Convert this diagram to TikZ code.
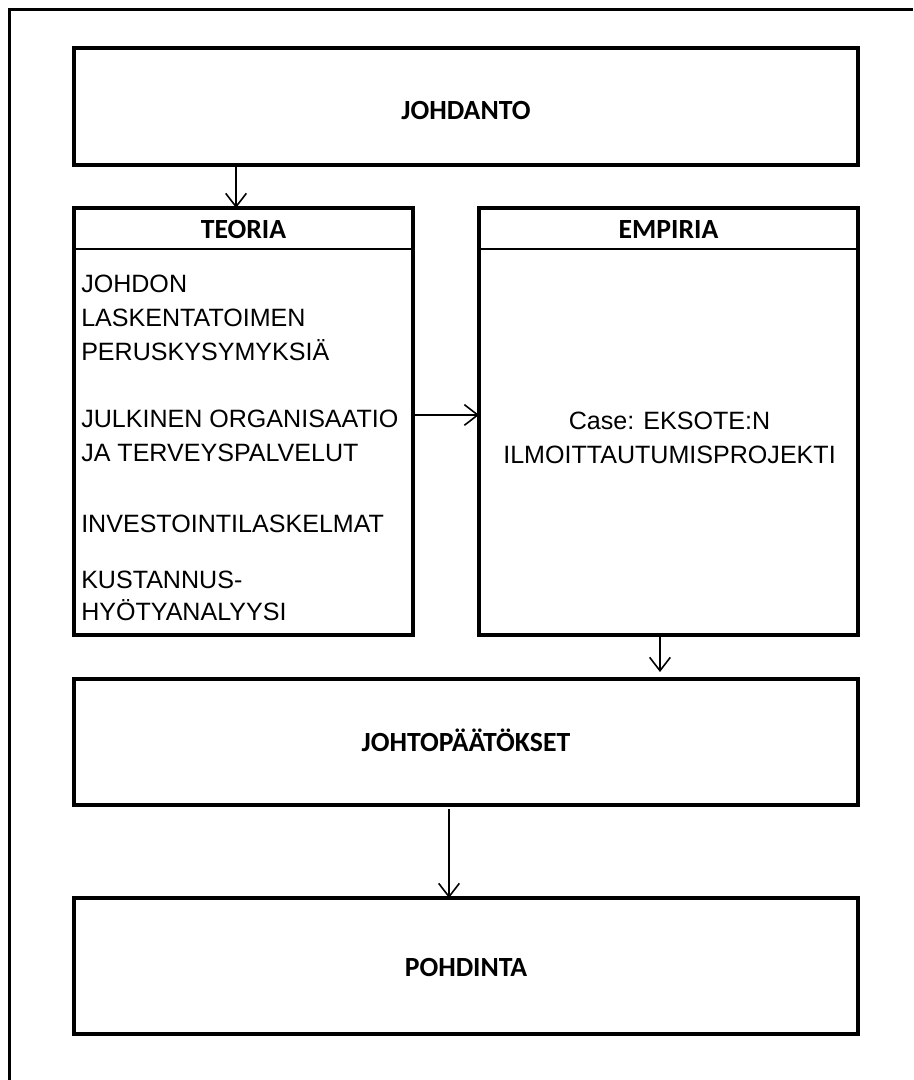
\documentclass[tikz,border=0pt]{standalone}
\usepackage{fontspec}
\setmainfont{Liberation Sans}
\newfontfamily\headfont{Carlito}
\usetikzlibrary{arrows.meta}
\newlength\pxu
\setlength\pxu{0.75pt}
\tikzset{
  box/.style={draw, line width=4\pxu, inner sep=0pt, outer sep=0pt},
  headtitle/.style={inner sep=0pt, font=\headfont\bfseries\fontsize{20.8pt}{24pt}\selectfont},
  sepline/.style={draw, line width=1.3\pxu},
  bodytext/.style={inner sep=0pt, font=\fontsize{18.8pt}{25pt}\selectfont},
  arr/.style={draw, line width=1.2pt, -{Straight Barb[length=10pt,width=15.5pt]}},
  frame/.style={draw, line width=1.65pt}
}
\begin{document}
\begin{tikzpicture}[x=0.75pt,y=-0.75pt]
\useasboundingbox[fill=white] (0,0) rectangle (913,1080);

% page frame (open at right and bottom)
\draw[frame] (9.5,1080) -- (9.5,9.5) -- (913,9.5);

% main boxes
\node[box, minimum width=784\pxu, minimum height=117\pxu] (johdanto) at (466,106.5) {};
\node[box, minimum width=339\pxu, minimum height=427\pxu] (teoria) at (243.5,421.5) {};
\node[box, minimum width=379\pxu, minimum height=427\pxu] (empiria) at (668.5,421.5) {};
\node[box, minimum width=784\pxu, minimum height=126\pxu] (johto) at (466,742) {};
\node[box, minimum width=784\pxu, minimum height=136\pxu] (pohdinta) at (466,966) {};

% box titles
\node[headtitle, anchor=base] (johdantoT) at (466,120) {JOHDANTO};
\node[headtitle, anchor=base] (johtoT) at (466,751) {JOHTOPÄÄTÖKSET};
\node[headtitle, anchor=base] (pohdintaT) at (466,976) {POHDINTA};

% header rows of the two middle boxes
\draw[sepline] ([yshift=-30.75pt]teoria.north west) -- ([yshift=-30.75pt]teoria.north east);
\draw[sepline] ([yshift=-30.75pt]empiria.north west) -- ([yshift=-30.75pt]empiria.north east);
\node[headtitle, anchor=base] (teoriaT) at (243.5,239) {TEORIA};
\node[headtitle, anchor=base] (empiriaT) at (668.5,239) {EMPIRIA};

% theory topics
\node[bodytext, anchor=base west] (t1) at (81,292) {JOHDON};
\node[bodytext, anchor=base west] (t2) at (81,326) {LASKENTATOIMEN};
\node[bodytext, anchor=base west] (t3) at (81,360) {PERUSKYSYMYKSIÄ};
\node[bodytext, anchor=base west] (t4) at (81,427) {JULKINEN ORGANISAATIO};
\node[bodytext, anchor=base west] (t5) at (81,461) {JA TERVEYSPALVELUT};
\node[bodytext, anchor=base west] (t6) at (81,532) {INVESTOINTILASKELMAT};
\node[bodytext, anchor=base west] (t7) at (81,588) {KUSTANNUS-};
\node[bodytext, anchor=base west] (t8) at (81,620) {HYÖTYANALYYSI};

% empirical case
\node[bodytext, anchor=base] (e1) at (669.5,429) {Case: EKSOTE:N};
\node[bodytext, anchor=base] (e2) at (669.5,463) {ILMOITTAUTUMISPROJEKTI};

% connectors
\draw[arr] ([xshift=-172.5pt]johdanto.south) -- ([xshift=-5.6pt]teoria.north);
\draw[arr] ([yshift=4.9pt]teoria.east) -- ([yshift=4.9pt]empiria.west);
\draw[arr, shorten >=5.25pt] ([xshift=-6.4pt]empiria.south) -- ([xshift=-6.4pt]empiria.south |- johto.north);
\draw[arr, shorten <=3pt] ([xshift=-12.75pt]johto.south) -- ([xshift=-12.75pt]pohdinta.north);
\end{tikzpicture}
\end{document}
